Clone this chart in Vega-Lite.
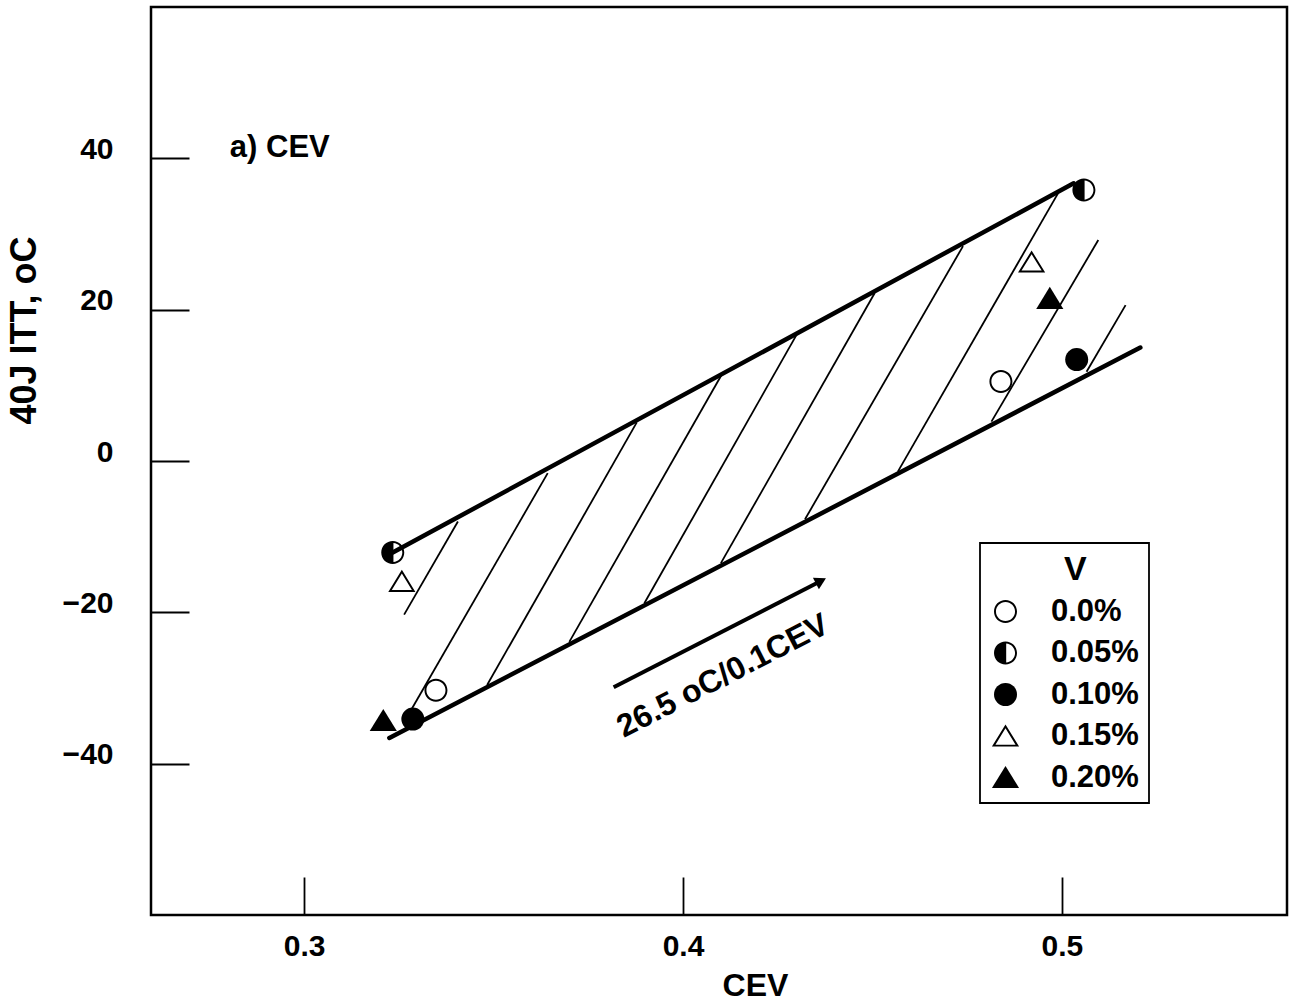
{
  "$schema": "https://vega.github.io/schema/vega-lite/v6.json",
  "width": 1136,
  "height": 908,
  "autosize": {"type": "none"},
  "padding": {"left": 151, "top": 7, "right": 4, "bottom": 87},
  "background": "white",
  "config": {
    "view": {"stroke": "black", "strokeWidth": 2.5},
    "font": "Liberation Sans",
    "legend": {"strokeWidth": 1.8},
    "axis": {
      "grid": false,
      "domain": false,
      "tickColor": "black",
      "tickWidth": 1.8,
      "tickSize": -38,
      "labelFont": "Liberation Sans",
      "labelFontWeight": "bold",
      "labelFontSize": 30,
      "labelColor": "black",
      "labelFlush": false,
      "labelOverlap": false,
      "titleFont": "Liberation Sans",
      "titleFontWeight": "bold",
      "titleColor": "black"
    }
  },
  "datasets": {
    "pts": [
      {"cev": 0.3234, "itt": -12.1, "V": "0.05%"},
      {"cev": 0.3258, "itt": -15.9, "V": "0.15%"},
      {"cev": 0.3348, "itt": -30.3, "V": "0.0%"},
      {"cev": 0.3287, "itt": -34.1, "V": "0.10%"},
      {"cev": 0.3209, "itt": -34.3, "V": "0.20%"},
      {"cev": 0.5058, "itt": 35.8, "V": "0.05%"},
      {"cev": 0.492, "itt": 26.3, "V": "0.15%"},
      {"cev": 0.4968, "itt": 21.5, "V": "0.20%"},
      {"cev": 0.5039, "itt": 13.4, "V": "0.10%"},
      {"cev": 0.4839, "itt": 10.5, "V": "0.0%"}
    ],
    "band": [
      {"edge": "upper", "cev": 0.3234, "itt": -12.1},
      {"edge": "upper", "cev": 0.5031, "itt": 36.7},
      {"edge": "lower", "cev": 0.3225, "itt": -36.6},
      {"edge": "lower", "cev": 0.5207, "itt": 15.0}
    ],
    "hatch": [
      {"h": 1, "cev": 0.3406, "itt": -8.0}, {"h": 1, "cev": 0.3264, "itt": -20.3},
      {"h": 2, "cev": 0.3643, "itt": -1.6}, {"h": 2, "cev": 0.3279, "itt": -33.2},
      {"h": 3, "cev": 0.3878, "itt": 5.1}, {"h": 3, "cev": 0.3483, "itt": -29.6},
      {"h": 4, "cev": 0.4102, "itt": 11.4}, {"h": 4, "cev": 0.37, "itt": -23.9},
      {"h": 5, "cev": 0.43, "itt": 16.7}, {"h": 5, "cev": 0.3898, "itt": -18.8},
      {"h": 6, "cev": 0.4506, "itt": 22.2}, {"h": 6, "cev": 0.41, "itt": -13.5},
      {"h": 7, "cev": 0.4739, "itt": 28.4}, {"h": 7, "cev": 0.4322, "itt": -7.7},
      {"h": 8, "cev": 0.499, "itt": 35.4}, {"h": 8, "cev": 0.4567, "itt": -1.4},
      {"h": 9, "cev": 0.5096, "itt": 29.2}, {"h": 9, "cev": 0.4814, "itt": 5.2},
      {"h": 10, "cev": 0.5168, "itt": 20.6}, {"h": 10, "cev": 0.5065, "itt": 11.8}
    ],
    "arrow": [
      {"cev": 0.3817, "itt": -29.9},
      {"cev": 0.4364, "itt": -15.85}
    ],
    "head": [
      {"cev": 0.4364, "itt": -15.85}
    ],
    "slope": [
      {"cev": 0.4105, "itt": -28.4, "label": "26.5 oC/0.1CEV"}
    ],
    "panel": [
      {"cev": 0.2804, "itt": 40.2, "label": "a) CEV"}
    ]
  },
  "encoding": {
    "x": {
      "field": "cev",
      "type": "quantitative",
      "scale": {"domain": [0.2596, 0.5594], "nice": false, "zero": false},
      "axis": {
        "title": "CEV",
        "values": [0.3, 0.4, 0.5],
        "format": ".1f",
        "labelPadding": 54,
        "titleFontSize": 32,
        "titleX": 604,
        "titleY": 80,
        "titleAlign": "center",
        "titleBaseline": "alphabetic"
      }
    },
    "y": {
      "field": "itt",
      "type": "quantitative",
      "scale": {"domain": [-60, 60], "nice": false, "zero": false},
      "axis": {
        "title": "40J ITT, oC",
        "values": [-40, -20, 0, 20, 40],
        "labelBaseline": "alphabetic",
        "labelPadding": 76,
        "titleFontSize": 36,
        "titleAngle": -90,
        "titleX": -116,
        "titleY": 323,
        "titleAlign": "center",
        "titleBaseline": "alphabetic"
      }
    }
  },
  "layer": [
    {
      "data": {"name": "hatch"},
      "mark": {"type": "line", "color": "black", "strokeWidth": 1.8},
      "encoding": {"detail": {"field": "h", "type": "nominal"}}
    },
    {
      "data": {"name": "band"},
      "mark": {"type": "line", "color": "black", "strokeWidth": 4.5, "strokeCap": "round"},
      "encoding": {"detail": {"field": "edge", "type": "nominal"}}
    },
    {
      "data": {"name": "arrow"},
      "mark": {"type": "line", "color": "black", "strokeWidth": 4},
      "encoding": {}
    },
    {
      "data": {"name": "head"},
      "mark": {"type": "point", "shape": "triangle-right", "filled": true, "color": "black", "opacity": 1, "size": 170, "angle": -27.2, "strokeWidth": 0}
    },
    {
      "data": {"name": "slope"},
      "mark": {"type": "text", "font": "Liberation Sans", "fontWeight": "bold", "fontSize": 32, "angle": -27.2, "align": "center", "baseline": "middle", "color": "black"},
      "encoding": {"text": {"field": "label", "type": "nominal"}}
    },
    {
      "data": {"name": "panel"},
      "mark": {"type": "text", "font": "Liberation Sans", "fontWeight": "bold", "fontSize": 31, "align": "left", "baseline": "alphabetic", "color": "black"},
      "encoding": {"text": {"field": "label", "type": "nominal"}}
    },
    {
      "data": {"name": "pts"},
      "mark": {"type": "point", "filled": true, "color": "black", "opacity": 1, "strokeWidth": 0, "size": 529},
      "encoding": {
        "shape": {
          "field": "V",
          "type": "nominal",
          "sort": ["0.0%", "0.05%", "0.10%", "0.15%", "0.20%"],
          "scale": {
            "domain": ["0.0%", "0.05%", "0.10%", "0.15%", "0.20%"],
            "range": [
              "M0,-1A1,1,0,1,1,0,1A1,1,0,1,1,0,-1Z M0,-0.83A0.83,0.83,0,1,0,0,0.83A0.83,0.83,0,1,0,0,-0.83Z",
              "M0,-1A1,1,0,1,1,0,1A1,1,0,1,1,0,-1Z M0.06,0.828A0.83,0.83,0,0,0,0.06,-0.828Z",
              "circle",
              "M0,-1L1.18,0.92L-1.18,0.92Z M0,-0.675L-0.876,0.75L0.876,0.75Z",
              "M0,-1L1.18,0.92L-1.18,0.92Z"
            ]
          },
          "legend": {
            "title": "V",
            "orient": "none",
            "legendX": 829,
            "legendY": 536,
            "direction": "vertical",
            "padding": 10,
            "strokeColor": "black",
            "fillColor": "white",
            "titleFont": "Liberation Sans",
            "titleFontWeight": "bold",
            "titleFontSize": 34,
            "titleColor": "black",
            "titleAnchor": "middle",
            "titleAlign": "left",
            "titlePadding": 9,
            "labelFont": "Liberation Sans",
            "labelFontWeight": "bold",
            "labelFontSize": 31,
            "labelColor": "black",
            "labelOffset": 30,
            "rowPadding": 9.5,
            "symbolSize": 529,
            "symbolFillColor": "black",
            "symbolStrokeWidth": 0,
            "symbolOpacity": 1
          }
        }
      }
    }
  ]
}
